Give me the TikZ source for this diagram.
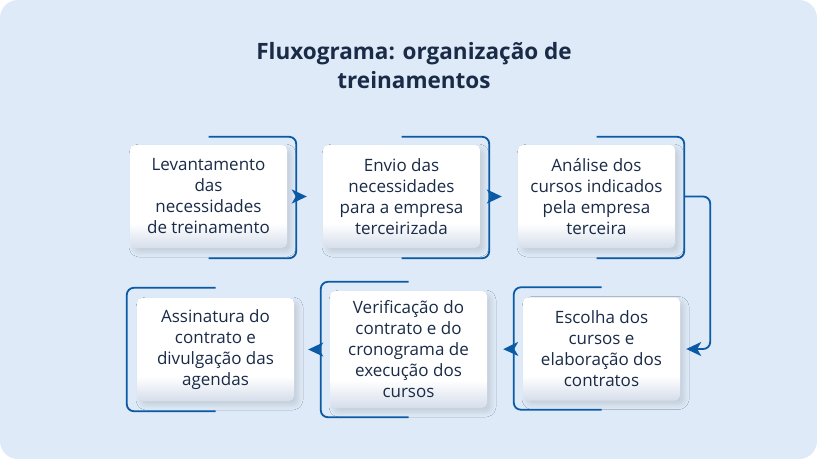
\documentclass[tikz,border=0pt]{standalone}
\usepackage{fontspec}
\setmainfont{Open Sans}
\usepackage{tikz}
\usetikzlibrary{arrows.meta,shadows.blur}

\definecolor{bgblue}{HTML}{DEEAF7}
\definecolor{linkblue}{HTML}{0B5AA6}
\definecolor{navy}{HTML}{1A2B47}
\definecolor{boxbot}{HTML}{D6DEEB}
\pgfdeclareverticalshading{boxfade}{100bp}{color(0bp)=(boxbot); color(25bp)=(boxbot);
    color(37bp)=(white); color(100bp)=(white)}

\begin{document}
\begin{tikzpicture}[x=1pt,y=-1pt]
\useasboundingbox (0,0) rectangle (817,459);
\fill[bgblue,rounded corners=18pt] (0,0) rectangle (817,459);

\node[text=navy,font=\fontsize{22.5}{29}\selectfont\bfseries,align=center] (title) at (414,66)
    {Fluxograma: organização de\\treinamentos};

\begin{scope}[every node/.style={rounded corners=5pt,minimum width=157pt,minimum height=103pt,
                                 align=center,text=navy,font=\fontsize{17}{21}\selectfont,
                                 shading=boxfade,
                                 blur shadow={shadow xshift=4pt,shadow yshift=-4pt,shadow blur radius=5pt,shadow opacity=12}}]
    \node (b1) at (208.5,196.5) {Levantamento\\das\\necessidades\\de treinamento};
    \node (b2) at (401.5,196.5) {Envio das\\necessidades\\para a empresa\\terceirizada};
    \node (b3) at (596.5,196.5) {Análise dos\\cursos indicados\\pela empresa\\terceira};
    \node (b4) at (601.5,349) {Escolha dos\\cursos e\\elaboração dos\\contratos};
    \node[minimum height=117pt] (b5) at (408.5,349.5) {Verificação do\\contrato e do\\cronograma de\\execução dos\\cursos};
    \node (b6) at (215.5,349.5) {Assinatura do\\contrato e\\divulgação das\\agendas};
\end{scope}

\begin{scope}[bracket/.style={draw=linkblue,line width=1.8pt,rounded corners=7pt},
              flow/.style={draw=linkblue,line width=1.8pt,rounded corners=7pt,
                           -{Stealth[length=15pt,width=14pt,inset=4pt]}}]
    % brackets of the first row open to the left
    \draw[bracket] ([yshift=8pt]b1.north) -| ([xshift=9pt]b1.east) |- ([yshift=-10pt]b1.south);
    \draw[bracket] ([yshift=8pt]b2.north) -| ([xshift=9pt]b2.east) |- ([yshift=-10pt]b2.south);
    \draw[bracket] ([yshift=8pt]b3.north) -| ([xshift=9pt]b3.east) |- ([yshift=-10pt]b3.south);
    % brackets of the second row open to the right
    \draw[bracket] ([yshift=10pt]b4.north) -| ([xshift=-9pt]b4.west) |- ([yshift=-9pt]b4.south);
    \draw[bracket] ([yshift=9pt]b5.north) -| ([xshift=-9pt]b5.west) |- ([yshift=-9pt]b5.south);
    \draw[bracket] ([yshift=10pt]b6.north) -| ([xshift=-10pt]b6.west) |- ([yshift=-10pt]b6.south);

    \coordinate (b1r) at ([xshift=9pt]b1.east);
    \coordinate (b2r) at ([xshift=9pt]b2.east);
    \coordinate (b3r) at ([xshift=9pt]b3.east);
    \coordinate (b4l) at ([xshift=-9pt]b4.west);
    \coordinate (b5l) at ([xshift=-9pt]b5.west);
    \coordinate (b4turn) at ([xshift=30pt]b4.east);

    \draw[flow,shorten >=16pt] (b1r) -- (b2.west);
    \draw[flow,shorten >=16pt] (b2r) -- (b3.west);
    \draw[flow,shorten >=6pt] (b3r) -| (b4turn) -- (b4.east);
    \draw[flow,shorten >=16pt] (b4l) -- (b5.east);
    \draw[flow,shorten >=14pt] (b5l) -- (b6.east);
\end{scope}
\end{tikzpicture}
\end{document}
